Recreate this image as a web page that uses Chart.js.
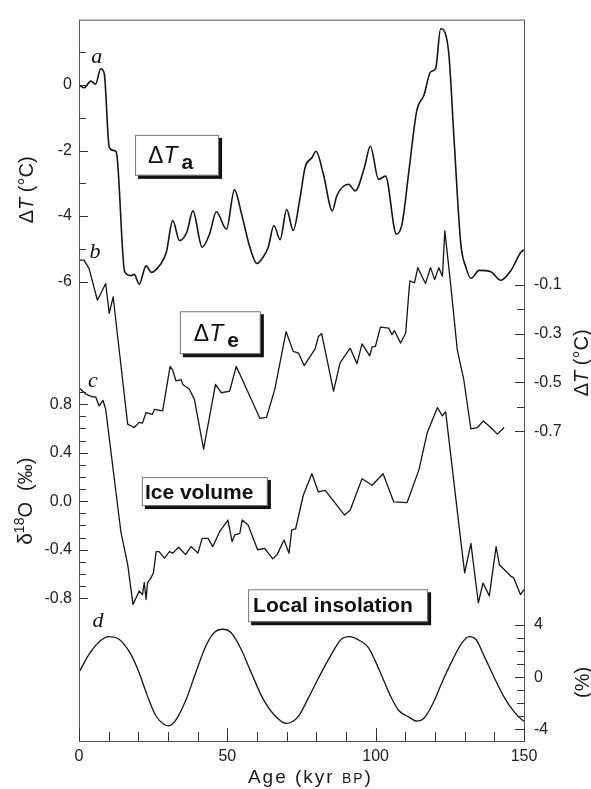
<!DOCTYPE html>
<html>
<head>
<meta charset="utf-8">
<script src="https://cdn.jsdelivr.net/npm/chart.js@4.4.1/dist/chart.umd.min.js"></script>
<style>
  html, body { margin: 0; padding: 0; background: #fff; }
  canvas { display: block; }
</style>
</head>
<body>
<canvas id="myChart" width="591" height="789"></canvas>
<script>
// age axis (kyr BP)
const ageTicks = [0, 10, 20, 30, 40, 50, 60, 70, 80, 90, 100, 110, 120, 130, 140, 150];
const ageLabels = [0, 50, 100, 150];

// a: air temperature anomaly (left, deg C)
const ageA = [0, 1.7, 4.0, 5.6, 7.3, 8.5, 10.2, 11.9, 12.6, 15.4, 17.5, 18.6, 20.3, 22.6, 24.4, 27.4, 29.4,
  31.6, 33.9, 36.4, 38.4, 41.5, 44.0, 46.3, 49.7, 52.4, 54.8, 57.6, 60.0, 62.1, 63.8, 65.7, 67.8, 70.0,
  72.2, 74.5, 76.2, 78.5, 79.9, 82.4, 85.4, 86.9, 90.9, 93.1, 96.2, 98.2, 101.0, 103.3, 107.0, 108.9,
  111.2, 113.8, 116.3, 118.5, 120.2, 121.9, 123.0, 124.7, 126.4, 128.7, 130.4, 132.1, 134.9, 138.8,
  142.2, 145.6, 149.0, 150.0];
const tempA = [0.0, -0.08, 0.12, 0.03, 0.5, 0.36, -1.9, -2.0, -2.05, -5.7, -5.82, -5.78, -6.08, -5.52, -5.72,
  -5.48, -5.12, -4.14, -4.75, -4.48, -3.84, -4.95, -4.55, -3.87, -4.4, -3.2, -3.94, -4.95, -5.45, -5.25,
  -4.95, -4.29, -4.72, -3.8, -4.44, -3.45, -2.52, -2.22, -2.02, -2.73, -3.84, -3.38, -3.03, -3.23, -2.52,
  -1.87, -2.88, -2.78, -4.55, -4.24, -2.63, -0.81, -0.3, 0.4, 0.5, 1.72, 1.67, 0.91, -1.62, -4.85, -5.56,
  -5.9, -5.66, -5.7, -5.96, -5.66, -5.1, -5.03];

// b: ocean temperature anomaly (right, deg C)
const ageB = [0, 1.7, 3.4, 6.2, 9.0, 10.2, 11.5, 16.4, 18.6, 20.3, 21.4, 22.6, 24.8, 25.4, 28.2, 30.7, 31.6,
  32.7, 34.4, 35.0, 37.2, 38.9, 42.0, 46.0, 48.0, 50.8, 53.0, 61.0, 63.2, 66.0, 69.8, 72.2, 74.0, 75.9,
  79.6, 80.7, 81.8, 85.8, 88.0, 91.4, 93.7, 95.4, 98.0, 98.8, 99.9, 101.6, 104.4, 105.5, 106.3, 108.4,
  110.1, 111.5, 113.1, 114.2, 115.7, 116.8, 118.5, 119.9, 121.3, 122.5, 123.3, 125.2, 127.5, 129.7,
  132.1, 134.3, 136.3, 138.8, 141.0, 143.3];
const tempB = [0.0, 0.0, -0.035, -0.164, -0.096, -0.218, -0.15, -0.67, -0.684, -0.663, -0.666, -0.623, -0.63,
  -0.61, -0.616, -0.434, -0.45, -0.494, -0.488, -0.508, -0.528, -0.569, -0.772, -0.508, -0.542, -0.535,
  -0.434, -0.647, -0.643, -0.528, -0.292, -0.373, -0.38, -0.431, -0.363, -0.312, -0.3, -0.535, -0.42,
  -0.36, -0.423, -0.342, -0.391, -0.355, -0.353, -0.274, -0.278, -0.305, -0.288, -0.339, -0.299, -0.085,
  -0.093, -0.031, -0.069, -0.096, -0.031, -0.08, -0.031, -0.066, 0.12, -0.09, -0.366, -0.488, -0.69,
  -0.684, -0.657, -0.684, -0.711, -0.684];

// c: ice volume, delta 18O (left, permil)
const ageC = [0, 0.6, 2.5, 4.5, 5.6, 6.8, 8.1, 9.0, 14.1, 16.4, 18.2, 20.3, 21.4, 22.0, 22.6, 23.1, 24.3, 25.1,
  26.0, 27.0, 28.8, 30.5, 31.6, 33.6, 35.9, 37.8, 40.1, 41.5, 43.5, 45.1, 47.4, 50.2, 51.6, 52.5, 54.2,
  55.0, 57.0, 60.2, 62.6, 65.3, 66.8, 69.1, 70.8, 71.7, 73.0, 75.6, 78.5, 80.7, 83.0, 89.5, 91.4, 95.4,
  98.8, 102.5, 106.1, 110.6, 114.6, 117.4, 120.8, 122.5, 123.6, 128.2, 130.0, 132.1, 134.6, 136.2,
  138.3, 140.6, 141.7, 145.6, 146.5, 148.8, 150.0];
const d18O = [0.935, 0.92, 0.88, 0.86, 0.86, 0.785, 0.83, 0.757, -0.25, -0.52, -0.85, -0.74, -0.77, -0.67,
  -0.81, -0.67, -0.63, -0.59, -0.415, -0.415, -0.469, -0.415, -0.428, -0.38, -0.44, -0.374, -0.428, -0.306,
  -0.306, -0.374, -0.251, -0.155, -0.333, -0.278, -0.265, -0.155, -0.196, -0.40, -0.388, -0.475, -0.44,
  -0.32, -0.428, -0.237, -0.229, 0.049, 0.226, 0.076, 0.09, -0.114, -0.074, 0.185, 0.131, 0.226, -0.006,
  -0.011, 0.26, 0.567, 0.771, 0.703, 0.736, -0.224, -0.59, -0.347, -0.837, -0.674, -0.78, -0.374, -0.523,
  -0.619, -0.63, -0.769, -0.728];

// d: local insolation (right, %)
const ageD = [0, 3.8, 7.2, 10.0, 13.4, 17.4, 20.2, 23.0, 25.8, 28.7, 30.3, 32.6, 36.0, 39.4, 42.8, 45.6, 48.4,
  51.2, 54.6, 58.0, 62.0, 65.9, 69.9, 73.8, 77.2, 80.6, 84.5, 88.5, 91.3, 94.7, 97.5, 99.8, 102.0, 104.9,
  107.7, 111.1, 113.9, 116.2, 119.0, 122.4, 125.8, 129.2, 131.4, 133.7, 136.5, 139.9, 143.3, 146.7,
  149.5, 150.0];
const insol = [0.38, 1.9, 2.79, 3.11, 2.92, 1.78, 0.38, -1.39, -2.91, -3.62, -3.72, -3.29, -1.77, 0.38, 2.41,
  3.42, 3.67, 3.42, 2.16, 0.38, -1.64, -2.91, -3.54, -3.04, -1.64, -0.12, 1.52, 2.92, 3.11, 2.79, 2.28,
  1.27, 0.13, -1.39, -2.53, -3.04, -3.36, -3.16, -2.15, -0.38, 1.27, 2.66, 3.11, 2.92, 1.65, 0.0, -1.52,
  -2.66, -3.29, -3.36];

// tick values and which of them carry a label
const aTicks = [1, 0, -1, -2, -3, -4, -5, -6];
const aLabels = [0, -2, -4, -6];
const bTicks = [-0.1, -0.2, -0.3, -0.4, -0.5, -0.6, -0.7];
const bLabels = [-0.1, -0.3, -0.5, -0.7];
const cTicks = [0.9, 0.8, 0.7, 0.6, 0.5, 0.4, 0.3, 0.2, 0.1, 0, -0.1, -0.2, -0.3, -0.4, -0.5, -0.6, -0.7, -0.8];
const cLabels = [0.8, 0.4, 0, -0.4, -0.8];
const dTicks = [4, 3, 2, 1, 0, -1, -2, -3, -4];
const dLabels = [4, 0, -4];

const SANS = 'Liberation Sans, Arial, sans-serif';
const tickFont = { family: SANS, size: 16 };

function series(ages, values, axis, width, smooth) {
  return {
    data: ages.map((a, i) => ({ x: a, y: values[i] })),
    xAxisID: 'x',
    yAxisID: axis,
    borderColor: '#151515',
    borderWidth: width,
    pointRadius: 0,
    fill: false,
    tension: 0,
    cubicInterpolationMode: smooth ? 'monotone' : 'default',
    borderJoinStyle: 'round'
  };
}

// stacked y axes: left = a over c, right = b over d
function yScale(pos, min, max, weight, stackWeight, ticks, labels, digits) {
  return {
    type: 'linear',
    position: pos,
    stack: 'panel',
    stackWeight: stackWeight,
    weight: weight,
    min: min,
    max: max,
    grid: { display: false, drawTicks: false },
    border: { display: false },
    afterBuildTicks: (s) => { s.ticks = ticks.map(v => ({ value: v })); },
    afterFit: (s) => { s.width = pos === 'left' ? 79 : 67; },
    ticks: {
      autoSkip: false,
      padding: pos === 'left' ? 7 : 10,
      font: tickFont,
      color: '#222',
      callback: (v) => labels.some(l => Math.abs(l - v) < 1e-9) ? v.toFixed(digits) : ''
    }
  };
}

// draw runs of text with mixed fonts on one baseline
function drawRuns(ctx, runs, x, y, center) {
  let total = 0;
  runs.forEach(r => { ctx.font = r.font; total += ctx.measureText(r.t).width + (r.dx || 0); });
  let cx = center ? x - total / 2 : x;
  runs.forEach(r => {
    ctx.font = r.font;
    cx += r.dx || 0;
    ctx.fillText(r.t, cx, y + (r.dy || 0));
    cx += ctx.measureText(r.t).width;
  });
}

function boxLabel(ctx, x, y, w, h, runs, padX, base) {
  ctx.fillStyle = '#111';
  ctx.fillRect(x + 3, y + 3, w + 1, h + 1);
  ctx.fillStyle = '#fff';
  ctx.fillRect(x, y, w, h);
  ctx.strokeStyle = '#777';
  ctx.lineWidth = 1;
  ctx.strokeRect(x + 0.5, y + 0.5, w, h);
  ctx.fillStyle = '#111';
  ctx.textBaseline = 'alphabetic';
  drawRuns(ctx, runs, x + padX, y + base, false);
}

function rotatedTitle(ctx, runs, cx, cy, cap) {
  ctx.save();
  ctx.translate(cx, cy);
  ctx.rotate(-Math.PI / 2);
  ctx.textBaseline = 'alphabetic';
  drawRuns(ctx, runs, 0, cap / 2, true);
  ctx.restore();
}

const decor = {
  id: 'decor',
  afterDraw(chart) {
    const ctx = chart.ctx;
    const area = chart.chartArea;
    const s = chart.scales;
    ctx.save();

    // frame
    ctx.strokeStyle = '#555';
    ctx.lineWidth = 1;
    ctx.strokeRect(area.left + 0.5, area.top + 0.5, area.right - area.left, area.bottom - area.top);

    // inward tick marks
    ctx.strokeStyle = '#333';
    ['ya', 'yb', 'yc', 'yd'].forEach(id => {
      const sc = s[id];
      sc.ticks.forEach(t => {
        const y = Math.round(sc.getPixelForValue(t.value)) + 0.5;
        const len = t.label ? 9 : 7;
        ctx.beginPath();
        if (sc.position === 'left') {
          ctx.moveTo(area.left, y); ctx.lineTo(area.left + len, y);
        } else {
          ctx.moveTo(area.right, y); ctx.lineTo(area.right - len, y);
        }
        ctx.stroke();
      });
    });
    s.x.ticks.forEach(t => {
      const x = Math.round(s.x.getPixelForValue(t.value)) + 0.5;
      ctx.beginPath();
      ctx.moveTo(x, area.bottom);
      ctx.lineTo(x, area.bottom - (t.label ? 13 : 9));
      ctx.stroke();
    });

    // panel letters
    ctx.fillStyle = '#111';
    ctx.font = 'italic 22px Liberation Serif, Times New Roman, serif';
    ctx.textAlign = 'center';
    ctx.textBaseline = 'middle';
    ctx.fillText('a', s.x.getPixelForValue(6.0), s.ya.getPixelForValue(0.85));
    ctx.fillText('b', s.x.getPixelForValue(5.4), s.yb.getPixelForValue(0.034));
    ctx.fillText('c', s.x.getPixelForValue(4.7), s.yc.getPixelForValue(0.99));
    ctx.fillText('d', s.x.getPixelForValue(6.4), s.yd.getPixelForValue(4.3));
    ctx.textAlign = 'left';

    // boxed series names
    const px = v => s.x.getPixelForValue(v);
    boxLabel(ctx, px(18.9), s.ya.getPixelForValue(-1.52), 83, 40, [
      { t: '\u0394', font: '23px ' + SANS },
      { t: 'T', font: 'italic 23px ' + SANS },
      { t: 'a', font: 'bold 21px ' + SANS, dy: 6, dx: 4 }
    ], 13, 28);
    boxLabel(ctx, px(34.0), s.yb.getPixelForValue(-0.209), 80, 42, [
      { t: '\u0394', font: '23px ' + SANS },
      { t: 'T', font: 'italic 23px ' + SANS },
      { t: 'e', font: 'bold 21px ' + SANS, dy: 6, dx: 4 }
    ], 14, 30);
    boxLabel(ctx, px(21.2), s.yc.getPixelForValue(0.199), 125, 28, [
      { t: 'Ice volume', font: 'bold 21px ' + SANS }
    ], 3, 22);
    boxLabel(ctx, px(57.0), s.yd.getPixelForValue(6.73), 179, 32, [
      { t: 'Local insolation', font: 'bold 21px ' + SANS }
    ], 5, 23);

    // axis titles
    ctx.fillStyle = '#1a1a1a';
    rotatedTitle(ctx, [
      { t: '\u0394', font: '20px ' + SANS },
      { t: 'T', font: 'italic 20px ' + SANS },
      { t: ' (\u00b0C)', font: '20px ' + SANS }
    ], 26, s.ya.getPixelForValue(-3.2), 14);
    rotatedTitle(ctx, [
      { t: '\u03b4', font: '21px ' + SANS },
      { t: '18', font: '14px ' + SANS, dy: -8 },
      { t: 'O  (\u2030)', font: '20px ' + SANS }
    ], 25, s.yc.getPixelForValue(0), 14);
    rotatedTitle(ctx, [
      { t: '\u0394', font: '20px ' + SANS },
      { t: 'T', font: 'italic 20px ' + SANS },
      { t: ' (\u00b0C)', font: '20px ' + SANS }
    ], 581, s.yb.getPixelForValue(-0.42), 14);
    rotatedTitle(ctx, [
      { t: '(%)', font: '20px ' + SANS }
    ], 582, s.yd.getPixelForValue(-0.4), 14);

    ctx.letterSpacing = '2px';
    ctx.textBaseline = 'alphabetic';
    drawRuns(ctx, [
      { t: 'Age (kyr ', font: '19px ' + SANS },
      { t: 'BP', font: '14px ' + SANS },
      { t: ')', font: '19px ' + SANS }
    ], px(78), 783, true);
    ctx.letterSpacing = '0px';

    ctx.restore();
  }
};

new Chart('myChart', {
  type: 'line',
  data: {
    datasets: [
      series(ageA, tempA, 'ya', 1.6, true),
      series(ageB, tempB, 'yb', 1.3, false),
      series(ageC, d18O, 'yc', 1.3, false),
      series(ageD, insol, 'yd', 1.3, true)
    ]
  },
  options: {
    responsive: false,
    animation: false,
    events: [],
    layout: { padding: { top: 14, left: 0, right: 0, bottom: 0 }, autoPadding: false },
    plugins: { legend: { display: false }, tooltip: { enabled: false } },
    scales: {
      x: {
        type: 'linear',
        position: 'bottom',
        min: 0,
        max: 150,
        grid: { display: false, drawTicks: false },
        border: { display: false },
        afterBuildTicks: (s) => { s.ticks = ageTicks.map(v => ({ value: v })); },
        afterFit: (s) => { s.height = 48; },
        ticks: {
          autoSkip: false,
          maxRotation: 0,
          padding: 6,
          font: tickFont,
          color: '#222',
          callback: (v) => ageLabels.includes(v) ? String(v) : ''
        }
      },
      ya: yScale('left', -6.667, 2.0, 2, 286, aTicks, aLabels, 0),
      yc: yScale('left', -1.976, 1.630, 1, 441, cTicks, cLabels, 1),
      yb: yScale('right', -0.9877, 0.9823, 1, 486, bTicks, bLabels, 1),
      yd: yScale('right', -4.882, 13.417, 2, 241, dTicks, dLabels, 0)
    }
  },
  plugins: [decor]
});
</script>
</body>
</html>
